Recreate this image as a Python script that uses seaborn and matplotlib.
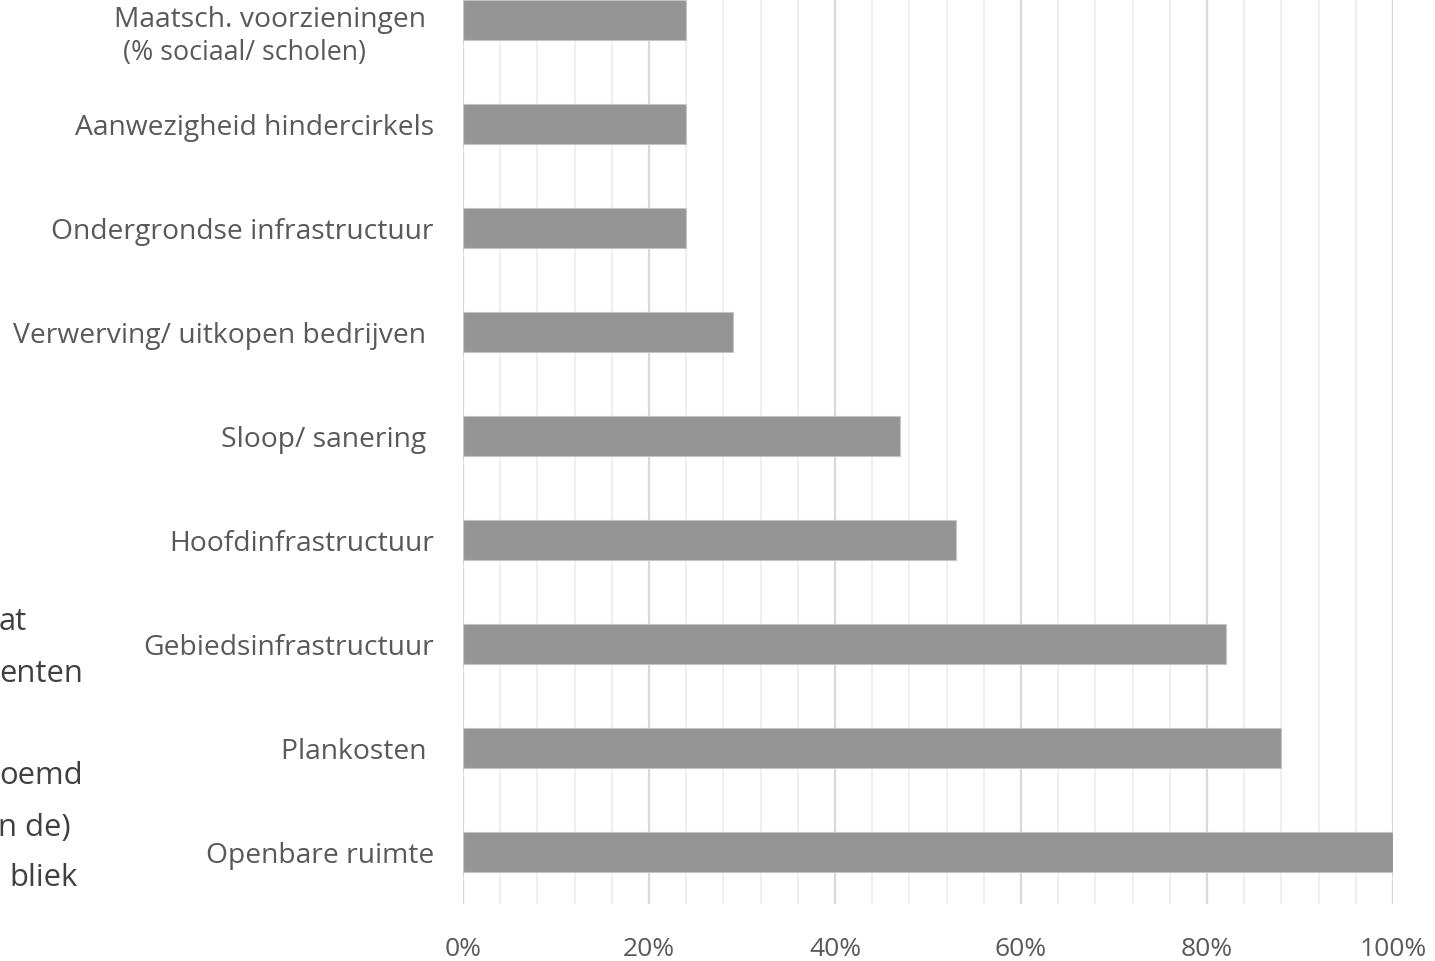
import matplotlib
matplotlib.use("Agg")
import matplotlib.pyplot as plt
import numpy as np
import pandas as pd
import seaborn as sns

# Cost items and the share of respondents naming them (%)
categories = [
    "Maatsch. voorzieningen",
    "Aanwezigheid hindercirkels",
    "Ondergrondse infrastructuur",
    "Verwerving/ uitkopen bedrijven ",
    "Sloop/ sanering ",
    "Hoofdinfrastructuur",
    "Gebiedsinfrastructuur",
    "Plankosten ",
    "Openbare ruimte",
]
shares = [24, 24, 24, 29, 47, 53, 82, 88, 100]
subtitle_first = "(% sociaal/ scholen)"

x_ticks = [0, 20, 40, 60, 80, 100]
x_tick_labels = ["0%", "20%", "40%", "60%", "80%", "100%"]

# Fragments of the side text box at the left edge
side_text = ["at", "enten", "", "oemd", "n de)", "bliek"]

df = pd.DataFrame({"item": categories, "share": shares})

sns.set_theme(style="white")
plt.rcParams["font.family"] = ["Open Sans", "DejaVu Sans"]

TEXT = "#595959"
fig = plt.figure(figsize=(14.35, 9.62), dpi=100)
ax = fig.add_axes([463 / 1435, 1 - 905 / 962, 930 / 1435, 905 / 962])

sns.barplot(data=df, x="share", y="item", orient="h", color="#959595",
            saturation=1, width=0.385, edgecolor="#c4c4c4", linewidth=0.8,
            ax=ax, zorder=3)

ax.set_xlim(0, 100)
ax.set_ylim(len(categories) - 0.5, -0.2)
ax.set_xticks(x_ticks)
ax.set_xticklabels(x_tick_labels)
ax.set_xticks(np.arange(0, 101, 4), minor=True)
ax.grid(axis="x", which="major", color="#d9d9d9", linewidth=1.6, zorder=0)
ax.grid(axis="x", which="minor", color="#efefef", linewidth=1.4, zorder=0)
ax.grid(axis="y", visible=False)
ax.set_axisbelow(True)
for s in ax.spines.values():
    s.set_visible(False)
ax.set_xlabel("")
ax.set_ylabel("")

ax.tick_params(axis="x", which="both", length=0, pad=23, labelsize=19,
               labelcolor=TEXT)
ax.tick_params(axis="y", length=0, pad=21, labelsize=20.3, labelcolor=TEXT)

labels = list(categories)
labels[0] = ""
ax.set_yticks(range(len(categories)))
ax.set_yticklabels(labels)

# Two-line label for the first item
ax.annotate(categories[0], xy=(0, 0), xycoords=("axes fraction", "data"),
            xytext=(-26.5, 0.5), textcoords="offset points",
            ha="right", va="center", fontsize=20.3, color=TEXT)
ax.annotate(subtitle_first, xy=(0, 0), xycoords=("axes fraction", "data"),
            xytext=(-157, -23), textcoords="offset points",
            ha="center", va="center", fontsize=19.3, color=TEXT)

side_x = [27, 83, 0, 83, 71, 78]
side_y = [622, 674, 725, 776, 828, 878]
for t, xp, yp in zip(side_text, side_x, side_y):
    if t:
        fig.text(xp / 1435, 1 - yp / 962, t, ha="right", va="center",
                 fontsize=22.3, color="#404040")

fig.savefig("out.png", dpi=100, facecolor="white")
